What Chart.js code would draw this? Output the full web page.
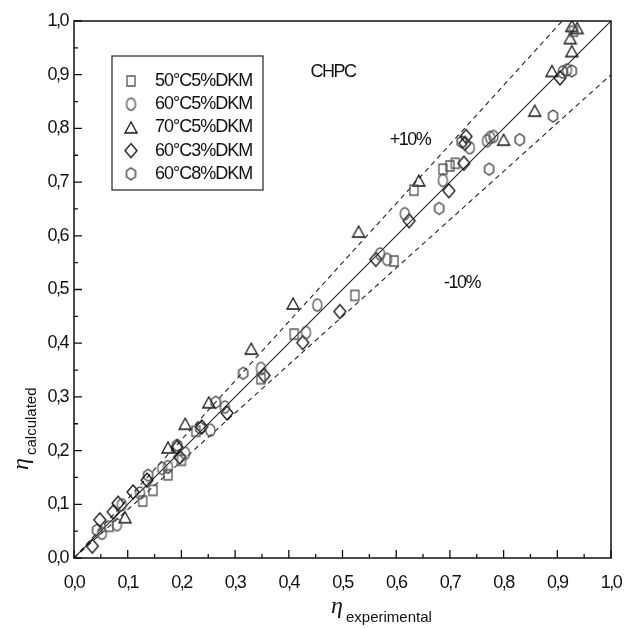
<!DOCTYPE html>
<html>
<head>
<meta charset="utf-8">
<script src="https://cdn.jsdelivr.net/npm/chart.js@4.4.1/dist/chart.umd.min.js"></script>
<style>
  body { margin: 0; background: #fff; }
  canvas { display: block; }
</style>
</head>
<body>
<canvas id="chart" width="628" height="628"></canvas>
<script>
// measured vs calculated efficiency, one list pair per series
const sqX = [0.065, 0.128, 0.147, 0.175, 0.200, 0.227, 0.348, 0.410, 0.523, 0.596, 0.633, 0.687, 0.700, 0.710, 0.930];
const sqY = [0.059, 0.106, 0.126, 0.155, 0.182, 0.236, 0.334, 0.417, 0.489, 0.553, 0.685, 0.724, 0.730, 0.735, 0.981];

const ciX = [0.052, 0.080, 0.089, 0.123, 0.164, 0.175, 0.207, 0.254, 0.281, 0.348, 0.432, 0.453, 0.570, 0.583, 0.616, 0.687, 0.737, 0.769, 0.775, 0.781, 0.910, 0.918];
const ciY = [0.046, 0.062, 0.099, 0.121, 0.167, 0.170, 0.195, 0.238, 0.281, 0.353, 0.420, 0.471, 0.566, 0.556, 0.641, 0.703, 0.764, 0.777, 0.783, 0.785, 0.905, 0.909];

const trX = [0.095, 0.175, 0.207, 0.251, 0.330, 0.408, 0.530, 0.642, 0.800, 0.858, 0.890, 0.924, 0.927, 0.927, 0.937];
const trY = [0.076, 0.206, 0.250, 0.290, 0.390, 0.474, 0.608, 0.703, 0.779, 0.833, 0.907, 0.968, 0.944, 0.991, 0.987];

const diX = [0.034, 0.048, 0.073, 0.082, 0.110, 0.136, 0.192, 0.197, 0.238, 0.285, 0.354, 0.426, 0.495, 0.562, 0.624, 0.698, 0.726, 0.728, 0.730, 0.905];
const diY = [0.022, 0.071, 0.086, 0.102, 0.123, 0.145, 0.206, 0.188, 0.244, 0.270, 0.340, 0.401, 0.459, 0.556, 0.628, 0.684, 0.735, 0.772, 0.785, 0.894];

const hxX = [0.043, 0.138, 0.192, 0.235, 0.264, 0.315, 0.680, 0.722, 0.773, 0.830, 0.892, 0.927];
const hxY = [0.052, 0.154, 0.210, 0.242, 0.290, 0.344, 0.651, 0.775, 0.724, 0.779, 0.823, 0.907];

const seriesNames = ["50°C5%DKM", "60°C5%DKM", "70°C5%DKM", "60°C3%DKM", "60°C8%DKM"];

// y = x and the +/-10% band
const refX = [0, 1];
const refY = [0, 1];
const upX = [0, 0.909];
const upY = [0, 1];
const loX = [0, 1];
const loY = [0, 0.9];

const tickVals = [0, 0.1, 0.2, 0.3, 0.4, 0.5, 0.6, 0.7, 0.8, 0.9, 1.0];
const tickLabels = ["0,0", "0,1", "0,2", "0,3", "0,4", "0,5", "0,6", "0,7", "0,8", "0,9", "1,0"];
const minorVals = [0.05, 0.15, 0.25, 0.35, 0.45, 0.55, 0.65, 0.75, 0.85, 0.95];

function pts(xs, ys) {
  return xs.map((x, i) => ({ x: x, y: ys[i] }));
}

function makeMarker(shape, w, h, color) {
  const c = document.createElement("canvas");
  c.width = w + 4;
  c.height = h + 4;
  const g = c.getContext("2d");
  const cx = c.width / 2, cy = c.height / 2;
  g.strokeStyle = color;
  g.lineWidth = 1.3;
  g.beginPath();
  if (shape === "rect") {
    g.rect(cx - w / 2, cy - h / 2, w, h);
  } else if (shape === "ellipse") {
    g.ellipse(cx, cy, w / 2, h / 2, 0, 0, Math.PI * 2);
  } else if (shape === "triangle") {
    g.moveTo(cx, cy - h / 2);
    g.lineTo(cx + w / 2, cy + h / 2);
    g.lineTo(cx - w / 2, cy + h / 2);
    g.closePath();
  } else if (shape === "diamond") {
    g.moveTo(cx, cy - h / 2);
    g.lineTo(cx + w / 2, cy);
    g.lineTo(cx, cy + h / 2);
    g.lineTo(cx - w / 2, cy);
    g.closePath();
  } else if (shape === "hexagon") {
    g.moveTo(cx, cy - h / 2);
    g.lineTo(cx + w / 2, cy - h / 4);
    g.lineTo(cx + w / 2, cy + h / 4);
    g.lineTo(cx, cy + h / 2);
    g.lineTo(cx - w / 2, cy + h / 4);
    g.lineTo(cx - w / 2, cy - h / 4);
    g.closePath();
  }
  g.stroke();
  return c;
}

const markers = [
  makeMarker("rect", 8, 10, "#555"),
  makeMarker("ellipse", 9, 12, "#555"),
  makeMarker("triangle", 12, 11, "#111"),
  makeMarker("diamond", 12, 14, "#111"),
  makeMarker("hexagon", 9, 12, "#333")
];

function scatterSet(i, xs, ys) {
  return {
    label: seriesNames[i],
    data: pts(xs, ys),
    pointStyle: markers[i],
    pointRadius: 6,
    showLine: false,
    order: 1
  };
}

function lineSet(xs, ys, dash) {
  return {
    data: pts(xs, ys),
    showLine: true,
    borderColor: "#222",
    borderWidth: 1.1,
    borderDash: dash,
    pointRadius: 0,
    order: 5
  };
}

// frame, ticks, labels, titles and the boxed legend
const decor = {
  id: "decor",
  afterDraw(c) {
    const ctx = c.ctx;
    const xs = c.scales.x, ys = c.scales.y;
    const a = c.chartArea;
    ctx.save();

    ctx.strokeStyle = "#111";
    ctx.lineWidth = 1.5;
    ctx.strokeRect(a.left, a.top, a.right - a.left, a.bottom - a.top);

    ctx.lineWidth = 1.3;
    ctx.beginPath();
    tickVals.forEach(v => {
      const px = xs.getPixelForValue(v), py = ys.getPixelForValue(v);
      ctx.moveTo(px, a.bottom); ctx.lineTo(px, a.bottom - 8);
      ctx.moveTo(a.left, py); ctx.lineTo(a.left + 8, py);
    });
    minorVals.forEach(v => {
      const px = xs.getPixelForValue(v), py = ys.getPixelForValue(v);
      ctx.moveTo(px, a.bottom); ctx.lineTo(px, a.bottom - 4);
      ctx.moveTo(a.left, py); ctx.lineTo(a.left + 4, py);
    });
    ctx.stroke();

    ctx.fillStyle = "#111";
    ctx.font = '18px "Liberation Sans"';
    ctx.letterSpacing = "-1.5px";
    ctx.textBaseline = "middle";
    ctx.textAlign = "center";
    tickVals.forEach((v, i) => ctx.fillText(tickLabels[i], xs.getPixelForValue(v), a.bottom + 25));
    ctx.textAlign = "right";
    tickVals.forEach((v, i) => ctx.fillText(tickLabels[i], a.left - 6, ys.getPixelForValue(v)));

    // annotations
    ctx.textAlign = "center";
    ctx.fillText("CHPC", 333, 72);
    ctx.fillText("+10%", 410, 140);
    ctx.fillText("-10%", 462, 283);

    // axis titles
    ctx.letterSpacing = "0px";
    ctx.textBaseline = "alphabetic";
    ctx.textAlign = "left";
    ctx.font = 'italic 24px "Liberation Serif"';
    ctx.fillText("η", 331, 613);
    ctx.font = '15px "Liberation Sans"';
    ctx.fillText("experimental", 346, 622);

    ctx.save();
    ctx.translate(28, 470);
    ctx.rotate(-Math.PI / 2);
    ctx.font = 'italic 24px "Liberation Serif"';
    ctx.fillText("η", 0, 0);
    ctx.font = '15px "Liberation Sans"';
    ctx.fillText("calculated", 15, 8);
    ctx.restore();

    // legend
    ctx.strokeStyle = "#333";
    ctx.lineWidth = 1.3;
    ctx.strokeRect(112, 56, 151, 134);
    ctx.font = '18px "Liberation Sans"';
    ctx.letterSpacing = "-1px";
    ctx.textBaseline = "middle";
    seriesNames.forEach((name, i) => {
      const y = 81 + i * 23.2;
      const m = markers[i];
      ctx.drawImage(m, 131 - m.width / 2, y - m.height / 2);
      ctx.fillText(name, 155, y);
    });

    ctx.restore();
  }
};

new Chart(document.getElementById("chart"), {
  type: "scatter",
  data: {
    datasets: [
      scatterSet(0, sqX, sqY),
      scatterSet(1, ciX, ciY),
      scatterSet(2, trX, trY),
      scatterSet(3, diX, diY),
      scatterSet(4, hxX, hxY),
      lineSet(refX, refY, []),
      lineSet(upX, upY, [5, 4]),
      lineSet(loX, loY, [5, 4])
    ]
  },
  options: {
    responsive: false,
    animation: false,
    layout: { padding: { left: 74, right: 17, top: 21, bottom: 70 } },
    scales: {
      x: { type: "linear", min: 0, max: 1, display: false },
      y: { type: "linear", min: 0, max: 1, display: false }
    },
    plugins: {
      legend: { display: false },
      tooltip: { enabled: false }
    }
  },
  plugins: [decor]
});
</script>
</body>
</html>
